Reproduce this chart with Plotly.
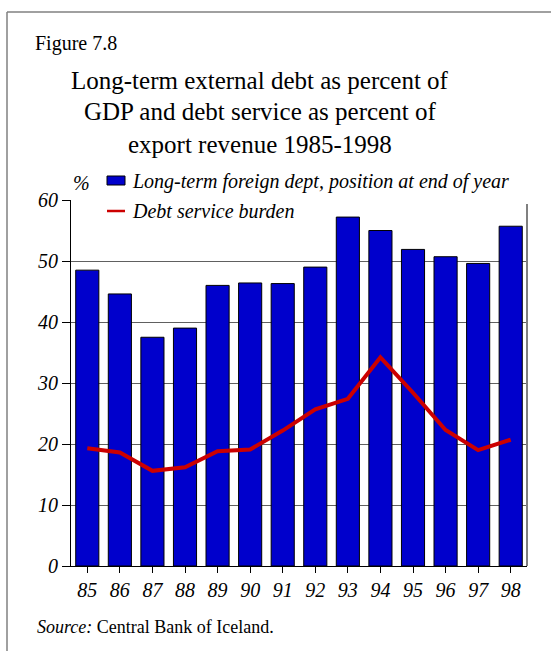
import plotly.graph_objects as go

# Years (two-digit labels) and the two series, in percent
years = ["85", "86", "87", "88", "89", "90", "91", "92", "93", "94", "95", "96", "97", "98"]
debt_pct_gdp = [48.5, 44.6, 37.5, 39.0, 46.0, 46.4, 46.3, 49.0, 57.2, 55.0, 51.9, 50.7, 49.6, 55.7]
debt_service = [19.3, 18.6, 15.6, 16.2, 18.8, 19.1, 22.2, 25.7, 27.4, 34.2, 28.4, 22.3, 19.0, 20.7]
y_ticks = [0, 10, 20, 30, 40, 50, 60]

W, H = 551, 651
L, R, T, B = 71, 24, 200, 85
PW, PH = W - L - R, H - T - B

SERIF = "Liberation Serif, Times New Roman, serif"
BLUE = "#0000CC"
RED = "#CC0000"


def px(x):
    """Horizontal pixel position -> paper coordinate."""
    return (x - L) / PW


def py(y):
    """Vertical pixel position -> paper coordinate."""
    return (H - B - y) / PH


fig = go.Figure()
fig.add_trace(go.Bar(
    x=years, y=debt_pct_gdp,
    marker=dict(color=BLUE, line=dict(color="#000000", width=1)),
    name="Long-term foreign dept, position at end of year",
))
fig.add_trace(go.Scatter(
    x=years, y=debt_service, mode="lines",
    line=dict(color=RED, width=4),
    name="Debt service burden",
))

shapes = [
    # white panel behind the key, hiding the top gridline
    dict(type="rect", xref="paper", yref="paper", x0=px(102), x1=px(551), y0=py(204), y1=py(165),
         fillcolor="white", line=dict(width=0), layer="above"),
    # right-hand frame of the plot area
    dict(type="line", xref="paper", yref="paper", x0=1, x1=1, y0=0, y1=py(204),
         line=dict(color="#808080", width=2), layer="above"),
    # outer figure border (top and left)
    dict(type="line", xref="paper", yref="paper", x0=px(7), x1=px(551), y0=py(12), y1=py(12),
         line=dict(color="#808080", width=1.5), layer="above"),
    dict(type="line", xref="paper", yref="paper", x0=px(7), x1=px(7), y0=py(12), y1=py(651),
         line=dict(color="#808080", width=1.5), layer="above"),
    # key swatches
    dict(type="rect", xref="paper", yref="paper", x0=px(107), x1=px(125), y0=py(185), y1=py(176),
         fillcolor=BLUE, line=dict(color="#000000", width=1), layer="above"),
    dict(type="line", xref="paper", yref="paper", x0=px(107), x1=px(125), y0=py(211), y1=py(211),
         line=dict(color=RED, width=2.5), layer="above"),
]

annotations = [
    dict(text="Figure 7.8", x=px(33), y=py(43), xanchor="left", yanchor="middle",
         font=dict(size=20, family=SERIF, color="#000")),
    dict(text="Long-term external debt as percent of", x=px(260), y=py(80),
         xanchor="center", yanchor="middle", font=dict(size=25, family=SERIF, color="#000")),
    dict(text="GDP and debt service as percent of", x=px(260), y=py(112),
         xanchor="center", yanchor="middle", font=dict(size=25, family=SERIF, color="#000")),
    dict(text="export revenue 1985-1998", x=px(260), y=py(144),
         xanchor="center", yanchor="middle", font=dict(size=25, family=SERIF, color="#000")),
    dict(text="%", x=px(71), y=py(183), xanchor="left", yanchor="middle",
         font=dict(size=20, family=SERIF, color="#000", style="italic")),
    dict(text="Long-term foreign dept, position at end of year", x=px(130), y=py(182),
         xanchor="left", yanchor="middle", font=dict(size=20, family=SERIF, color="#000", style="italic")),
    dict(text="Debt service burden", x=px(130), y=py(211),
         xanchor="left", yanchor="middle", font=dict(size=20, family=SERIF, color="#000", style="italic")),
    dict(text="<i>Source:</i> Central Bank of Iceland.", x=px(35), y=py(627),
         xanchor="left", yanchor="middle", font=dict(size=18, family=SERIF, color="#000")),
]
for a in annotations:
    a.update(xref="paper", yref="paper", showarrow=False)

fig.update_layout(
    width=W, height=H,
    margin=dict(l=L, r=R, t=T, b=B),
    paper_bgcolor="white", plot_bgcolor="white",
    showlegend=False,
    bargap=0.29,
    shapes=shapes,
    annotations=annotations,
    font=dict(family=SERIF, color="#000"),
)
fig.update_xaxes(
    type="category", showgrid=False,
    showline=True, linecolor="#000", linewidth=1,
    ticks="outside", ticklen=6, tickcolor="#000",
    tickfont=dict(size=20, family=SERIF, style="italic", color="#000"),
)
fig.update_yaxes(
    range=[0, 60], tickvals=y_ticks,
    showgrid=True, gridcolor="#606060", gridwidth=1,
    zeroline=False,
    showline=True, linecolor="#000", linewidth=1,
    ticks="outside", ticklen=8, tickcolor="#000",
    tickfont=dict(size=20, family=SERIF, style="italic", color="#000"),
)

fig.write_html("out.html")
